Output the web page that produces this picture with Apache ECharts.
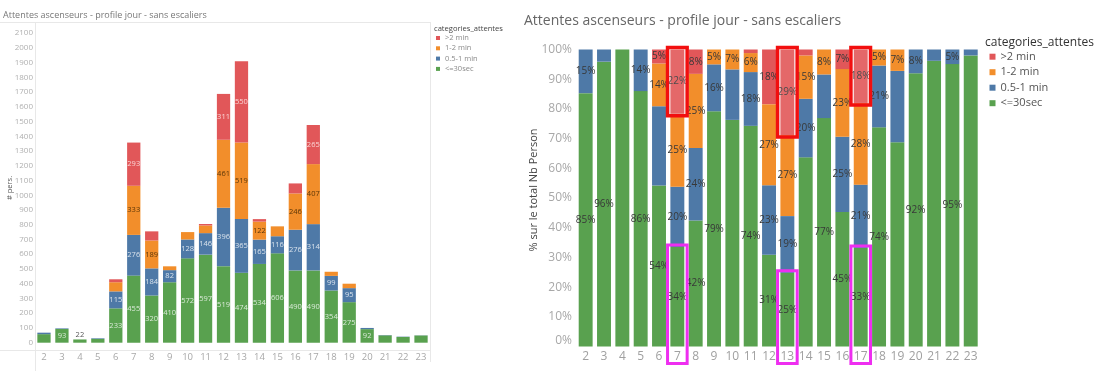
<!DOCTYPE html>
<html><head><meta charset="utf-8">
<script src="https://cdn.jsdelivr.net/npm/echarts@6/dist/echarts.min.js"></script>
<style>html,body{margin:0;padding:0;background:#fff}#c{width:1100px;height:371px}</style>
</head><body><div id="c"></div>
<script>
// ---------- data ----------
const hours = ['2','3','4','5','6','7','8','9','10','11','12','13','14','15','16','17','18','19','20','21','22','23'];
const categories = ['<=30sec', '0.5-1 min', '1-2 min', '>2 min'];
const legendOrder = ['>2 min', '1-2 min', '0.5-1 min', '<=30sec'];
// number of persons (left chart)
const persUpTo30s = [58, 93, 22, 26, 233, 455, 320, 410, 572, 597, 519, 474, 534, 606, 490, 490, 354, 275, 92, 50, 39, 49];
const pers30sTo1m = [10, 4, 0, 4, 115, 276, 184, 82, 128, 146, 396, 365, 165, 116, 276, 314, 99, 95, 8, 2, 2, 1];
const pers1To2m   = [0, 0, 0, 0, 62, 333, 189, 26, 50, 52, 461, 519, 122, 67, 246, 407, 28, 30, 0, 0, 0, 0];
const persOver2m  = [0, 0, 0, 0, 20, 293, 62, 0, 0, 10, 311, 550, 17, 0, 68, 265, 0, 0, 0, 0, 0, 0];
// % of total persons (right chart)
const pctUpTo30s = [85.3, 95.9, 100, 86.0, 54.2, 33.5, 42.4, 79.2, 76.3, 74.3, 30.9, 24.8, 63.7, 76.9, 45.3, 33.2, 73.8, 68.8, 92.0, 96.2, 95.1, 98.0];
const pct30sTo1m = [14.7, 4.1, 0, 14.0, 26.7, 20.3, 24.4, 15.8, 17.0, 18.1, 23.4, 19.1, 19.7, 14.7, 25.3, 21.3, 20.8, 24.0, 8.0, 3.8, 4.9, 2.0];
const pct1To2m   = [0, 0, 0, 0, 14.4, 24.6, 25.0, 5.0, 6.7, 6.4, 27.3, 27.3, 14.6, 8.4, 22.8, 27.5, 5.4, 7.2, 0, 0, 0, 0];
const pctOver2m  = [0, 0, 0, 0, 4.7, 21.6, 8.2, 0, 0, 1.2, 18.4, 28.8, 2.0, 0, 6.6, 18.0, 0, 0, 0, 0, 0, 0];
// axis ticks
const leftYMax = 2100, leftYStep = 100;
const rightYMax = 100, rightYStep = 10;
// highlighted hours (annotation boxes)
const highlightHours = ['7', '13', '17'];

// ---------- style ----------
const FONT = '"Open Sans", "DejaVu Sans", sans-serif';
const colors = ['#59a14f', '#4e79a7', '#f28e2b', '#e15759'];
const leftLabelColors = ['rgba(255,255,255,0.78)', 'rgba(255,255,255,0.78)', '#5b3608', 'rgba(255,235,235,0.85)'];
const persSeries = [persUpTo30s, pers30sTo1m, pers1To2m, persOver2m];
const pctSeries = [pctUpTo30s, pct30sTo1m, pct1To2m, pctOver2m];
const leftLabelMin = 80;         // smaller segments carry no label
const leftTopLabelHours = ['4'];  // label written above the bar
const rightLabelMin = 4.5;
const rightHidden = {'4':[0], '6':[1], '10':[0,1], '14':[0], '15':[1], '19':[0,1], '21':[0], '23':[0]};

const series = [];
categories.forEach((name, s) => {
  series.push({
    name, type: 'bar', stack: 'L', xAxisIndex: 0, yAxisIndex: 0,
    barCategoryGap: '26%', itemStyle: {color: colors[s]},
    label: {show: true, position: 'inside', fontFamily: FONT, fontSize: 7.5, color: leftLabelColors[s]},
    data: persSeries[s].map((v, i) => {
      const top = s === 0 && leftTopLabelHours.includes(hours[i]);
      return {value: v, label: top ? {show: true, position: 'top', distance: 1, color: '#555'} : {show: v >= leftLabelMin}};
    })
  });
});
categories.forEach((name, s) => {
  series.push({
    name, type: 'bar', stack: 'R', xAxisIndex: 1, yAxisIndex: 1,
    barCategoryGap: '24%', itemStyle: {color: colors[s]},
    label: {show: true, position: 'inside', fontFamily: FONT, fontSize: 10, color: '#383838',
      formatter: p => Math.round(p.value) + '%'},
    data: pctSeries[s].map((v, i) => {
      const hid = (rightHidden[hours[i]] || []).includes(s);
      return {value: v, label: {show: v >= rightLabelMin && !hid}};
    })
  });
});

const chart = echarts.init(document.getElementById('c'));
chart.setOption({
  animation: false,
  textStyle: {fontFamily: FONT},
  grid: [
    {left: 35, right: 670, top: 33, bottom: 28.3},
    {left: 576.5, right: 120.1, top: 49.5, bottom: 24.5}
  ],
  xAxis: [
    {type: 'category', gridIndex: 0, data: hours, axisLine: {show: false}, axisTick: {show: false},
     axisLabel: {margin: 10, fontSize: 9.5, color: '#a8a8a8', fontFamily: FONT}},
    {type: 'category', gridIndex: 1, data: hours, axisLine: {show: false}, axisTick: {show: false},
     axisLabel: {margin: 4, fontSize: 12, color: '#a0a0a0', fontFamily: FONT}}
  ],
  yAxis: [
    {type: 'value', gridIndex: 0, min: 0, max: leftYMax, interval: leftYStep, splitLine: {show: false},
     axisLine: {show: false}, axisTick: {show: false},
     axisLabel: {margin: 2, fontSize: 8, color: '#b0b0b0', fontFamily: FONT, formatter: v => String(v)}},
    {type: 'value', gridIndex: 1, min: 0, max: rightYMax, interval: rightYStep, splitLine: {show: false},
     axisLine: {show: false}, axisTick: {show: false},
     axisLabel: {margin: 4.5, fontSize: 12, color: '#a8a8a8', fontFamily: FONT, formatter: '{value}%',
       verticalAlignMinLabel: 'bottom'}}
  ],
  legend: [
    {orient: 'vertical', left: 436, top: 33.5, itemWidth: 4, itemHeight: 4, itemGap: 1.3, padding: 0,
     icon: 'rect', selectedMode: false, data: legendOrder,
     textStyle: {fontFamily: FONT, fontSize: 7.5, lineHeight: 9, color: '#8a8a8a'}},
    {orient: 'vertical', left: 989.5, top: 50.7, itemWidth: 6, itemHeight: 6, itemGap: 3.5, padding: 0,
     icon: 'rect', selectedMode: false, data: legendOrder,
     textStyle: {fontFamily: FONT, fontSize: 11, lineHeight: 12, color: '#555'}}
  ],
  series
});

// ---------- decorations ----------
const lineCol = '#e8e8e8';
const g = [
  {type: 'text', x: 3, y: 15, style: {text: 'Attentes ascenseurs - profile jour - sans escaliers', font: '9px ' + FONT, fill: '#777', verticalAlign: 'middle'}},
  {type: 'text', x: 524, y: 20.7, style: {text: 'Attentes ascenseurs - profile jour - sans escaliers', font: '14px ' + FONT, fill: '#666', verticalAlign: 'middle'}},
  {type: 'text', x: 434, y: 29, style: {text: 'categories_attentes', font: '7.6px ' + FONT, fill: '#444', verticalAlign: 'middle'}},
  {type: 'text', x: 985, y: 42.3, style: {text: 'categories_attentes', font: '500 12px ' + FONT, fill: '#333', verticalAlign: 'middle'}},
  {type: 'text', x: 10, y: 188, rotation: Math.PI / 2, style: {text: '# pers.', font: '7.5px ' + FONT, fill: '#555', align: 'center', verticalAlign: 'middle'}},
  {type: 'text', x: 534, y: 190, rotation: Math.PI / 2, style: {text: '% sur le total Nb Person', font: '11px ' + FONT, fill: '#444', align: 'center', verticalAlign: 'middle'}},
  {type: 'line', shape: {x1: 0, y1: 22.5, x2: 430.5, y2: 22.5}, style: {stroke: lineCol, lineWidth: 1}},
  {type: 'line', shape: {x1: 35.5, y1: 22, x2: 35.5, y2: 371}, style: {stroke: lineCol, lineWidth: 1}},
  {type: 'line', shape: {x1: 430.5, y1: 22, x2: 430.5, y2: 362}, style: {stroke: lineCol, lineWidth: 1}},
  {type: 'line', shape: {x1: 0, y1: 350.5, x2: 430.5, y2: 350.5}, style: {stroke: lineCol, lineWidth: 1}}
];
const toPx = (h, v) => chart.convertToPixel({xAxisIndex: 1, yAxisIndex: 1}, [h, v]);
highlightHours.forEach(h => {
  const i = hours.indexOf(h);
  const topP = toPx(h, rightYMax);
  const redBottom = toPx(h, rightYMax - pctOver2m[i]);
  const greenTop = toPx(h, pctUpTo30s[i]);
  const cx = topP[0];
  g.push({type: 'rect', z: 100, shape: {x: cx - 9.8, y: topP[1] - 2, width: 19.6, height: redBottom[1] - topP[1] + 4},
    style: {stroke: '#f20f0f', lineWidth: 3.5, fill: 'rgba(255,255,255,0.1)'}});
  g.push({type: 'rect', z: 100, shape: {x: cx - 9.8, y: greenTop[1] - 2, width: 19.6, height: 363.5 - greenTop[1] + 2},
    style: {stroke: '#ee2ef0', lineWidth: 3, fill: 'none'}});
});
chart.setOption({graphic: g});
</script></body></html>
